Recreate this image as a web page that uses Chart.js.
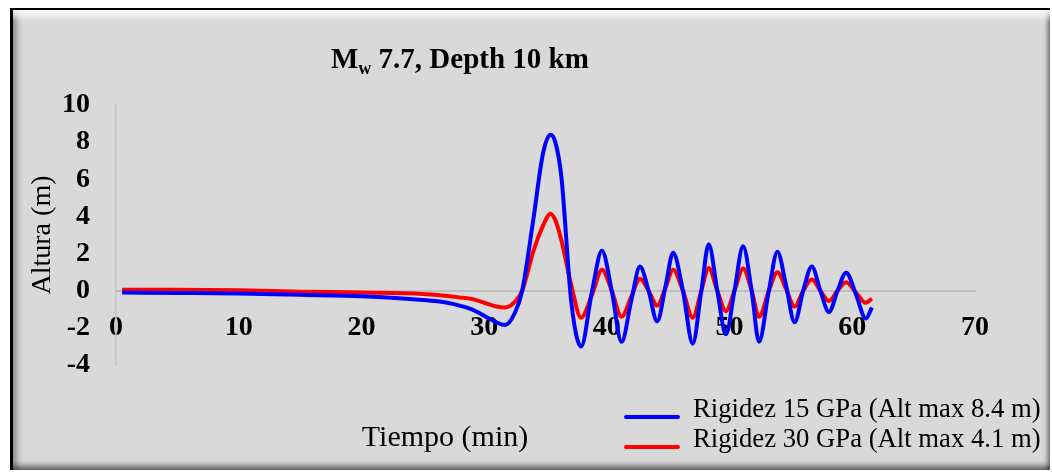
<!DOCTYPE html>
<html>
<head>
<meta charset="utf-8">
<title>Mw 7.7, Depth 10 km</title>
<script src="https://cdn.jsdelivr.net/npm/chart.js@4.4.1/dist/chart.umd.min.js"></script>
<style>
  html, body { margin: 0; background: #fff; }
  #wrap { position: relative; width: 1052px; height: 476px; overflow: hidden; }
  #frame {
    position: absolute; left: 10px; top: 8px; width: 1040px; height: 462px;
    box-sizing: border-box; background: #d9d9d9;
    border-top: 2px solid #000; border-left: 3px solid #000;
    box-shadow:
      inset 0 12px 8px -6px rgba(255, 255, 255, 0.95),
      inset 7px 0 6px -3px rgba(0, 0, 0, 0.35),
      inset 0 -7px 6px -3px rgba(0, 0, 0, 0.55),
      inset -5px 0 5px -3px rgba(0, 0, 0, 0.55);
  }
  canvas { position: absolute; left: 0; top: 0; }
</style>
</head>
<body>
<div id="wrap">
  <div id="frame"></div>
  <canvas id="chart" width="1052" height="476"></canvas>
</div>
<script>
const SERIF = "'Liberation Serif', 'Times New Roman', serif";

// tiempo (min) de cada punto
const tiempo = [
  0.5, 5, 10, 15, 20, 25, 27, 28, 29, 30, 31, 31.7, 32.5, 33.1, 34, 34.8,
  35.4, 35.8, 36.3, 37.1, 37.9, 38.8, 39.6, 40.4, 41.2, 42.0, 42.7, 43.4,
  44.1, 44.8, 45.4, 46.2, 47.0, 47.7, 48.3, 49.0, 49.7, 50.4, 51.1, 51.8,
  52.4, 53.2, 53.9, 54.6, 55.3, 56.0, 56.7, 57.4, 58.1, 58.8, 59.5, 60.3,
  61.1, 61.6,
];

const rigidez15 = [
  -0.1, -0.12, -0.15, -0.22, -0.3, -0.5, -0.65, -0.8, -1.0, -1.35, -1.7, -1.85, -1.2, 0, 3.8, 7.4,
  8.4, 8.0, 6.1, -0.6, -3.0, 0, 2.15, 0, -2.75, -0.5, 1.3, 0,
  -1.65, 0.3, 2.05, 0, -2.85, 0, 2.5, 0, -2.35, 0, 2.4, 0,
  -2.75, 0, 2.1, 0.3, -1.7, 0, 1.3, 0, -1.15, 0, 0.97, -0.2,
  -1.5, -0.9,
];

const rigidez30 = [
  0.05, 0.05, 0.03, -0.05, -0.1, -0.18, -0.28, -0.36, -0.45, -0.65, -0.85, -0.9, -0.6, 0, 2.1, 3.5,
  4.15, 3.8, 2.7, 0.3, -1.45, -0.2, 1.13, 0, -1.4, -0.3, 0.65, 0,
  -0.8, 0.2, 1.13, 0, -1.45, 0, 1.22, 0, -1.1, 0, 1.2, 0,
  -1.4, 0, 1.0, 0.1, -0.85, 0, 0.6, 0, -0.55, 0, 0.45, -0.1,
  -0.65, -0.43,
];

const seriesLabels = [
  "Rigidez 15 GPa (Alt max 8.4 m)",
  "Rigidez 30 GPa (Alt max 4.1 m)",
];
const seriesColors = ["#0000ff", "#ff0000"];

const xTickValues = [0, 10, 20, 30, 40, 50, 60, 70];
const yTickValues = [-4, -2, 0, 2, 4, 6, 8, 10];

function toPoints(values) {
  return values.map((v, i) => ({ x: tiempo[i], y: v }));
}

const textPlugin = {
  id: "textos",
  afterDraw(chart) {
    const ctx = chart.ctx;
    ctx.save();
    ctx.fillStyle = "#000";
    ctx.textBaseline = "alphabetic";
    ctx.textAlign = "left";

    // titulo con subindice
    let x = 331;
    const y = 68;
    ctx.font = `bold 29px ${SERIF}`;
    ctx.fillText("M", x, y);
    x += ctx.measureText("M").width;
    ctx.font = `bold 18px ${SERIF}`;
    ctx.fillText("w", x, y + 6);
    x += ctx.measureText("w").width;
    ctx.font = `bold 29px ${SERIF}`;
    ctx.fillText(" 7.7, Depth 10 km", x, y);

    // titulo eje x
    ctx.font = `30px ${SERIF}`;
    ctx.textAlign = "center";
    ctx.fillText("Tiempo (min)", 445, 446);

    // leyenda
    ctx.textAlign = "left";
    ctx.font = `26.7px ${SERIF}`;
    chart.data.datasets.forEach((ds, i) => {
      const ly = 417 + i * 30;
      ctx.strokeStyle = ds.borderColor;
      ctx.lineWidth = 4;
      ctx.lineCap = "round";
      ctx.beginPath();
      ctx.moveTo(626, ly);
      ctx.lineTo(678, ly);
      ctx.stroke();
      ctx.fillText(ds.label, 693, ly);
    });
    ctx.restore();
  },
};

new Chart(document.getElementById("chart"), {
  type: "line",
  data: {
    datasets: [
      {
        label: seriesLabels[0],
        data: toPoints(rigidez15),
        borderColor: seriesColors[0],
        borderWidth: 4,
        pointRadius: 0,
        cubicInterpolationMode: "monotone",
      },
      {
        label: seriesLabels[1],
        data: toPoints(rigidez30),
        borderColor: seriesColors[1],
        borderWidth: 4,
        pointRadius: 0,
        cubicInterpolationMode: "monotone",
      },
    ],
  },
  options: {
    responsive: false,
    animation: false,
    layout: { padding: { left: 0, top: 105, right: 77, bottom: 111 } },
    plugins: {
      legend: { display: false },
      title: { display: false },
      tooltip: { enabled: false },
    },
    scales: {
      x: {
        type: "linear",
        position: { y: 0 },
        min: 0,
        max: 70,
        afterBuildTicks: (scale) => {
          scale.ticks = xTickValues.map((v) => ({ value: v }));
        },
        grid: { display: false, drawTicks: false },
        border: { display: true, color: "#bfbfbf", width: 2 },
        ticks: {
          color: "#000",
          padding: 20,
          maxRotation: 0,
          font: { family: SERIF, size: 28, weight: "bold" },
        },
      },
      y: {
        min: -4,
        max: 10,
        afterBuildTicks: (scale) => {
          scale.ticks = yTickValues.map((v) => ({ value: v }));
        },
        afterFit: (scale) => {
          scale.width = 116;
        },
        grid: { display: false, drawTicks: false },
        border: { display: true, color: "#c4c4c4", width: 1.5 },
        ticks: {
          color: "#000",
          padding: 26,
          font: { family: SERIF, size: 28, weight: "bold" },
        },
        title: {
          display: true,
          text: "Altura (m)",
          color: "#000",
          padding: { top: 26, bottom: 0 },
          font: { family: SERIF, size: 28 },
        },
      },
    },
  },
  plugins: [textPlugin],
});
</script>
</body>
</html>
